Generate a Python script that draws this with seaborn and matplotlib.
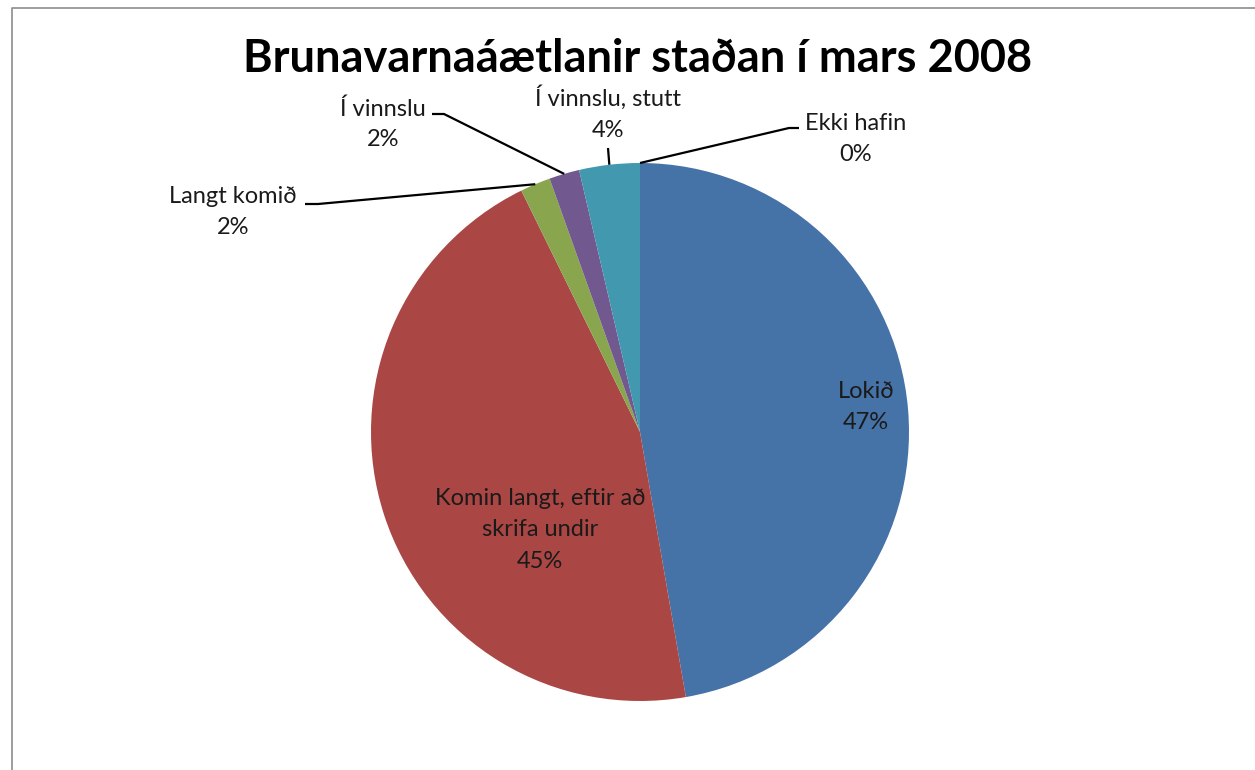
import numpy as np
import matplotlib
matplotlib.use("Agg")
import matplotlib.pyplot as plt
import seaborn as sns

# data (counts of municipalities)
categories = ["Lokið", "Komin langt, eftir að\nskrifa undir", "Langt komið",
              "Í vinnslu", "Í vinnslu, stutt", "Ekki hafin"]
counts = [26, 25, 1, 1, 2, 0]
slice_colors = ["#4572A7", "#AA4643", "#89A54E", "#71588F", "#4198AF", "#DB843D"]
title = "Brunavarnaáætlanir staðan í mars 2008"

sns.set_theme(style="white")
plt.rcParams["font.family"] = ["Lato", "DejaVu Sans"]

W, H = 1255, 770
fig = plt.figure(figsize=(W / 100, H / 100), dpi=100)
ax = fig.add_axes([0, 0, 1, 1])

# everything below is in pixel units (y measured from bottom)
cx, cy, R = 640, H - 432, 269
pal = sns.color_palette(slice_colors)
wedges, _ = ax.pie(counts, colors=pal, startangle=90, counterclock=False,
                   center=(cx, cy), radius=R, frame=True,
                   wedgeprops=dict(linewidth=0))
ax.set_xlim(0, W)
ax.set_ylim(0, H)
ax.set_aspect("auto")
ax.axis("off")

total = sum(counts)
pcts = [f"{round(c / total * 100)}%" for c in counts]

# label layout: (text centre x, text centre y in px from top, leader elbow points)
inside = {0: (866, 407), 1: (540, 530)}
outside = {
    2: (233, 212, [(305, 204), (318, 204)]),
    3: (383, 124, [(432, 114), (444, 114)]),
    4: (608, 113, [(608, 148)]),
    5: (856, 139, [(799, 128), (789, 128)]),
}
fs = 17
for i, w in enumerate(wedges):
    txt = f"{categories[i]}\n{pcts[i]}"
    if i in inside:
        x, y = inside[i]
        ax.text(x, H - y, txt, ha="center", va="center", fontsize=fs,
                color="#1a1a1a", linespacing=1.62)
    else:
        x, y, elbow = outside[i]
        ax.text(x, H - y, txt, ha="center", va="center", fontsize=fs,
                color="#1a1a1a", linespacing=1.55)
        mid = np.deg2rad((w.theta1 + w.theta2) / 2)
        px, py = cx + R * np.cos(mid), cy + R * np.sin(mid)
        xs = [e[0] for e in elbow] + [px]
        ys = [H - e[1] for e in elbow] + [py]
        ax.plot(xs, ys, color="black", lw=1.6, solid_capstyle="butt")

ax.text(638, H - 59, title, ha="center", va="center", fontsize=32.5,
        fontweight="bold", color="black")

# chart area border (top and left visible)
ax.plot([12, 12, W + 5], [-5, H - 8, H - 8], color="#8c8c8c", lw=1.2,
        clip_on=False)

fig.savefig("out.png", dpi=100)
